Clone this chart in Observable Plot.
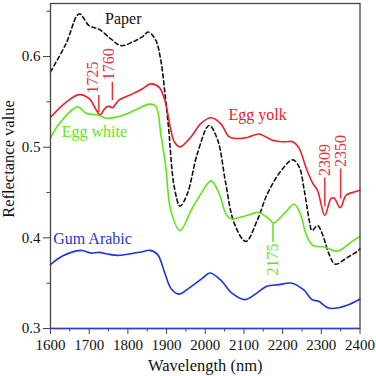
<!DOCTYPE html>
<html><head><meta charset="utf-8">
<script src="https://cdn.jsdelivr.net/npm/d3@7"></script>
<script src="https://cdn.jsdelivr.net/npm/@observablehq/plot@0.6"></script>
<style>body{margin:0;background:#fff}#chart svg{display:block}#chart svg text{font-family:'Liberation Serif','Times New Roman',serif}</style>
</head><body><div id="chart"></div>
<script>
// ---- data ----
const paperWl  = [1600,1640,1674,1700,1726,1756,1782,1812,1838,1853,1872,1885,1896,1905,1920,1935,1954,1980,2010,2032,2053,2075,2105,2135,2161,2196,2226,2243,2256,2269,2276,2290,2303,2320,2336,2366,2396,2400];
const paperVal = [0.583,0.614,0.647,0.634,0.630,0.6195,0.612,0.616,0.622,0.627,0.618,0.596,0.559,0.522,0.456,0.435,0.449,0.4935,0.524,0.508,0.460,0.416,0.396,0.420,0.449,0.474,0.486,0.478,0.452,0.419,0.408,0.4135,0.404,0.382,0.371,0.378,0.386,0.388];

const yolkWl  = [1600,1640,1674,1700,1717,1728,1743,1753,1760,1777,1812,1838,1859,1881,1896,1911,1920,1935,1963,1989,2015,2040,2062,2084,2109,2138,2157,2178,2204,2226,2243,2260,2278,2290,2309,2325,2333,2349,2364,2385,2400];
const yolkVal = [0.533,0.5495,0.558,0.5535,0.542,0.5356,0.544,0.545,0.5435,0.552,0.5588,0.5644,0.5698,0.566,0.551,0.519,0.506,0.5003,0.5113,0.5262,0.5324,0.526,0.5113,0.5096,0.5107,0.5145,0.5113,0.507,0.506,0.506,0.4985,0.478,0.460,0.4525,0.4248,0.4433,0.444,0.4333,0.447,0.4506,0.4525];

const whiteWl  = [1600,1622,1670,1691,1726,1743,1786,1821,1855,1872,1885,1898,1911,1935,1963,1989,2015,2036,2053,2066,2092,2109,2137,2165,2176,2204,2230,2247,2260,2278,2308,2342,2377,2400];
const whiteVal = [0.510,0.5256,0.5445,0.5378,0.535,0.532,0.535,0.5414,0.5475,0.5455,0.515,0.478,0.430,0.408,0.430,0.4488,0.4628,0.4488,0.4267,0.421,0.423,0.4249,0.428,0.421,0.4164,0.4267,0.437,0.4249,0.4046,0.3917,0.3898,0.3854,0.3953,0.4017];

const gumWl  = [1600,1631,1678,1704,1726,1747,1773,1803,1834,1857,1877,1894,1911,1932,1958,1993,2012,2039,2069,2103,2133,2159,2190,2224,2254,2276,2293,2319,2349,2375,2400];
const gumVal = [0.3705,0.380,0.3862,0.3832,0.384,0.3822,0.3807,0.3822,0.3844,0.3862,0.3815,0.363,0.3445,0.3379,0.3445,0.3556,0.3613,0.3538,0.339,0.3318,0.339,0.3466,0.3484,0.350,0.3428,0.3318,0.330,0.3225,0.3233,0.327,0.3325];

const seriesNames  = ["Paper","Egg yolk","Egg white","Gum Arabic"];
const seriesColors = ["#111111","#e8202a","#5ee614","#1f35d6"];
const labelWl  = [1741,2060,1629,1607];
const labelVal = [0.6361,0.5304,0.5108,0.393];

const annoLabel  = ["1725","1760","2309","2350","2175"];
const annoWl     = [1725,1760,2309,2350,2175];
const annoTextWl = [1709,1751,2309,2350,2175];
const annoCurve  = [0.5384,0.5514,0.4343,0.4428,0.4151];
const annoEnd    = [0.5569,0.5716,0.4660,0.4759,0.3948];
const annoColor  = ["#e8303a","#e8303a","#e8303a","#e8303a","#5ee614"];

const xMajor = [1600,1700,1800,1900,2000,2100,2200,2300,2400];
const xMinor = [1650,1750,1850,1950,2050,2150,2250,2350];
const yMajor = [0.3,0.4,0.5,0.6];
const yMinor = [0.35,0.45,0.55,0.65];

// ---- build tables ----
const FONT = "'Liberation Serif', 'Times New Roman', serif";
const seriesData = [
  {name: seriesNames[0], wl: paperWl, val: paperVal, color: seriesColors[0], dash: "4,3"},
  {name: seriesNames[1], wl: yolkWl,  val: yolkVal,  color: seriesColors[1], dash: null},
  {name: seriesNames[2], wl: whiteWl, val: whiteVal, color: seriesColors[2], dash: null},
  {name: seriesNames[3], wl: gumWl,   val: gumVal,   color: seriesColors[3], dash: null}
];
const labels = seriesNames.map((n,i) => ({name: n, w: labelWl[i], v: labelVal[i], color: seriesColors[i]}));
const anno = annoLabel.map((l,i) => ({label: l, w: annoWl[i], tw: annoTextWl[i], c: annoCurve[i], e: annoEnd[i], color: annoColor[i], up: annoEnd[i] > annoCurve[i]}));

const lineMarks = [];
for (const s of seriesData) {
  const rows = s.wl.map((w,i) => ({w, v: s.val[i]}));
  const opts = {x: "w", y: "v", stroke: s.color, strokeWidth: 1.6, curve: "catmull-rom"};
  if (s.dash) opts.strokeDasharray = s.dash;
  lineMarks.push(Plot.line(rows, opts));
}
const labelMarks = labels.map(d => Plot.text([d], {x: "w", y: "v", text: "name", fill: d.color, textAnchor: "start", lineAnchor: "bottom", fontSize: 16, fontFamily: FONT}));
const annoMarks = [];
for (const d of anno) {
  annoMarks.push(Plot.ruleX([d], {x: "w", y1: "c", y2: "e", stroke: d.color, strokeWidth: 1.5}));
  annoMarks.push(Plot.text([d], {x: "tw", y: "e", text: "label", fill: d.color, rotate: -90, fontSize: 16, fontFamily: FONT,
    textAnchor: d.up ? "start" : "end", dy: d.up ? -2 : 1}));
}

const chart = Plot.plot({
  width: 376, height: 376,
  marginLeft: 50, marginRight: 16.5, marginTop: 3, marginBottom: 48,
  x: {domain: [1600, 2400]},
  y: {domain: [0.3, 0.6585]},
  style: {fontFamily: FONT, fontSize: "15px", background: "white", color: "#111"},
  marks: [
    Plot.axisX(xMajor, {tickSize: 6, tickPadding: 5, label: null, fontSize: 15, fontFamily: FONT, tickFormat: d3.format("d"), stroke: "#444"}),
    Plot.axisX(xMinor, {tickSize: 3.5, tickFormat: () => "", label: null, stroke: "#444"}),
    Plot.axisY(yMajor, {tickSize: 7, tickPadding: 3, label: null, fontSize: 15, fontFamily: FONT, tickFormat: d3.format(".1f"), stroke: "#444"}),
    Plot.axisY(yMinor, {tickSize: 3.5, tickFormat: () => "", label: null, stroke: "#444"}),
    ...lineMarks,
    ...annoMarks,
    ...labelMarks,
    Plot.frame({stroke: "#444", strokeWidth: 1.3}),
    Plot.ruleY([0.3], {stroke: "#3040c8", strokeWidth: 1.3}),
    Plot.text(["Wavelength (nm)"], {frameAnchor: "middle", dy: 204.5, textAnchor: "middle", lineAnchor: "bottom", fontSize: 16.5, fontFamily: FONT, fill: "#111"}),
    Plot.text(["Reflectance value"], {frameAnchor: "middle", dx: -191.25, dy: -7, rotate: -90, textAnchor: "middle", lineAnchor: "bottom", fontSize: 16.5, fontFamily: FONT, fill: "#111"})
  ]
});
document.getElementById("chart").appendChild(chart);
</script>
</body></html>
